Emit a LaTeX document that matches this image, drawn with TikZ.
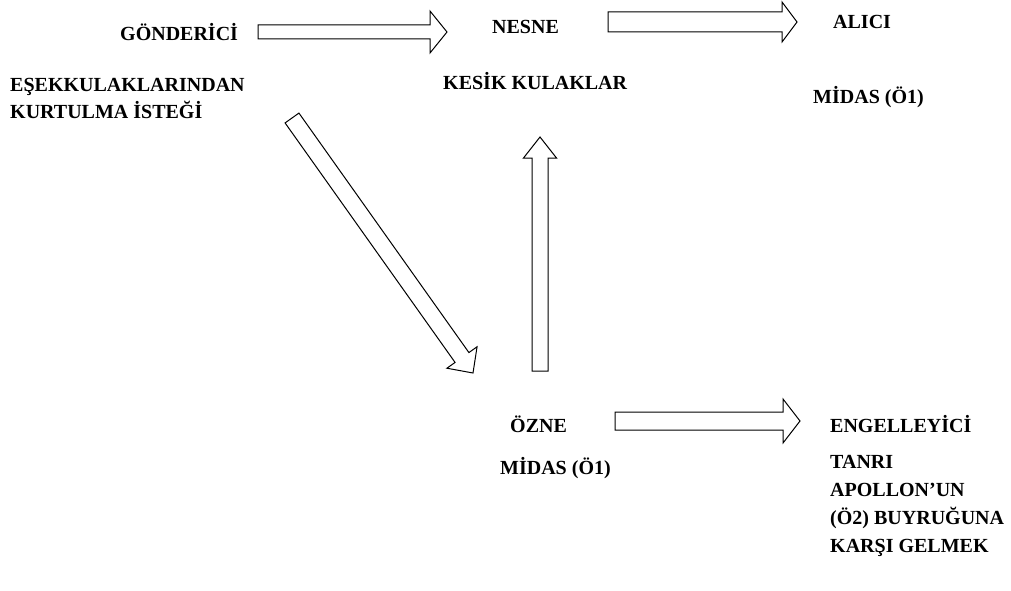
\documentclass[tikz,border=0pt]{standalone}
\usepackage{fontspec}
\setmainfont{Liberation Serif}
\usetikzlibrary{calc}

\tikzset{
  lbl/.style={font=\bfseries\fontsize{20}{27}\selectfont, inner sep=0pt, anchor=base west, align=left},
  blk/.style={draw, line width=1pt, fill=white, line join=miter},
}
% block arrow: tail, tip, body half width, head half width, head length
\newcommand{\blockarrow}[5]{%
  \draw[blk] let \p1=($(#2)-(#1)$), \n1={atan2(\y1,\x1)}, \n2={veclen(\x1,\y1)} in
    ($(#1)+(\n1+90:#3)$) -- ++(\n1:\n2-#5) -- ++(\n1+90:#4-#3) -- (#2)
    -- ($(#2)+(\n1+180:#5)+(\n1-90:#4)$) -- ++(\n1+90:#4-#3)
    -- ($(#1)+(\n1-90:#3)$) -- cycle;}

\begin{document}
\begin{tikzpicture}[x=1pt, y=-1pt]
\useasboundingbox (0,0) rectangle (1011,591);

% multi-line nodes sit on the baseline of their last line
\node[lbl] (gond) at (120,41) {GÖNDERİCİ};
\node[lbl] (istek) at (10,118) {EŞEKKULAKLARINDAN\\KURTULMA İSTEĞİ};
\node[lbl] (nesne) at (492,34) {NESNE};
\node[lbl] (kulak) at (443,90) {KESİK KULAKLAR};
\node[lbl] (alici) at (833,29) {ALICI};
\node[lbl] (midas1) at (813,104) {MİDAS (Ö1)};
\node[lbl] (ozne) at (510,432) {ÖZNE};
\node[lbl] (midas2) at (500,474) {MİDAS (Ö1)};
\node[lbl] (engel) at (830,432) {ENGELLEYİCİ};
\node[lbl, font=\bfseries\fontsize{20}{28}\selectfont] (karsi) at (830,552)
  {TANRI\\APOLLON’UN\\(Ö2) BUYRUĞUNA\\KARŞI GELMEK};

\coordinate (a1) at (258,32);  \coordinate (b1) at (447,32);
\coordinate (a2) at (608,22);  \coordinate (b2) at (797,22);
\coordinate (a3) at (292,118); \coordinate (b3) at (473,373);
\coordinate (a4) at (540,371); \coordinate (b4) at (540,137);
\coordinate (a5) at (615,421); \coordinate (b5) at (800,421);

\blockarrow{a1}{b1}{7pt}{21pt}{17pt}
\blockarrow{a2}{b2}{10pt}{20pt}{15pt}
\blockarrow{a3}{b3}{8.5pt}{18.5pt}{19pt}
\blockarrow{a4}{b4}{8pt}{16.5pt}{21pt}
\blockarrow{a5}{b5}{9pt}{22pt}{17pt}
\end{tikzpicture}
\end{document}
